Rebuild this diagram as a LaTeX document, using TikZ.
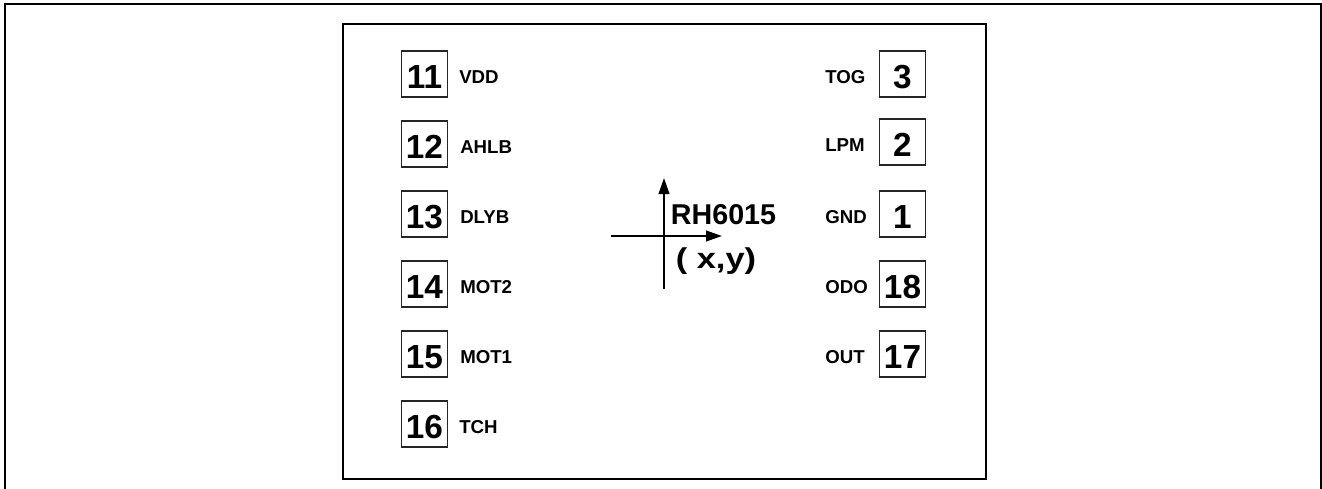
\documentclass[tikz,border=0pt]{standalone}
\usepackage{fontspec}
\setmainfont{Liberation Sans}
\usetikzlibrary{arrows.meta}
\newcommand\pinnum[1]{\raisebox{-1.9pt}[\height][0pt]{#1}}
\begin{document}
\begin{tikzpicture}[x=0.75pt,y=-0.75pt,
  pinbox/.style={draw=black!85, line width=0.8pt, minimum width=34.5pt, minimum height=34.5pt, inner sep=0pt, font=\fontsize{25}{25}\selectfont\bfseries},
  pinlabel/.style={anchor=west, inner sep=0pt, font=\fontsize{14}{14}\selectfont\bfseries},
  frameline/.style={line width=1.6pt},
  axisline/.style={line width=1.5pt, -{Triangle[length=12pt,width=8pt]}},
  bigtext/.style={inner sep=0pt, font=\fontsize{21.5}{21.5}\selectfont\bfseries}]
\useasboundingbox (0,0) rectangle (1322,489);
% outer frame
\draw[frameline] (5,489) -- (5,4) -- (1321,4) -- (1321,489);
% chip outline
\node[draw, frameline, anchor=north west, minimum width=482.25pt, minimum height=341.25pt, inner sep=0pt] (chip) at (342,23) {};
% left pins
\node[pinbox] (p11) at (424.5,74) {\pinnum{11}};
\node[pinbox] (p12) at (424.5,144) {\pinnum{12}};
\node[pinbox] (p13) at (424.5,214) {\pinnum{13}};
\node[pinbox] (p14) at (424.5,284) {\pinnum{14}};
\node[pinbox] (p15) at (424.5,354) {\pinnum{15}};
\node[pinbox] (p16) at (424.5,424) {\pinnum{16}};
\node[pinlabel] (l11) at (459,77) {VDD};
\node[pinlabel] (l12) at (460,147) {AHLB};
\node[pinlabel] (l13) at (460,217) {DLYB};
\node[pinlabel] (l14) at (460,287) {MOT2};
\node[pinlabel] (l15) at (460,357) {MOT1};
\node[pinlabel] (l16) at (459,427) {TCH};
% right pins
\node[pinbox] (p3) at (902.5,74) {\pinnum{3}};
\node[pinbox] (p2) at (902.5,142) {\pinnum{2}};
\node[pinbox] (p1) at (902.5,214) {\pinnum{1}};
\node[pinbox] (p18) at (902.5,284) {\pinnum{18}};
\node[pinbox] (p17) at (902.5,354) {\pinnum{17}};
\node[pinlabel] (l3) at (825,77) {TOG};
\node[pinlabel] (l2) at (825,145) {LPM};
\node[pinlabel] (l1) at (825,217) {GND};
\node[pinlabel] (l18) at (825,287) {ODO};
\node[pinlabel] (l17) at (825,357) {OUT};
% axes
\coordinate (vbot) at (664,289);
\coordinate (vtop) at (664,178);
\coordinate (hleft) at (611,236);
\coordinate (hright) at (722,236);
\draw[axisline] (vbot) -- (vtop);
\draw[axisline] (hleft) -- (hright);
\node[bigtext] (name) at (723.5,215) {RH6015};
\node[bigtext] (xy) at (716,261) {\scalebox{1.2}[1]{( x,y)}};
\end{tikzpicture}
\end{document}
